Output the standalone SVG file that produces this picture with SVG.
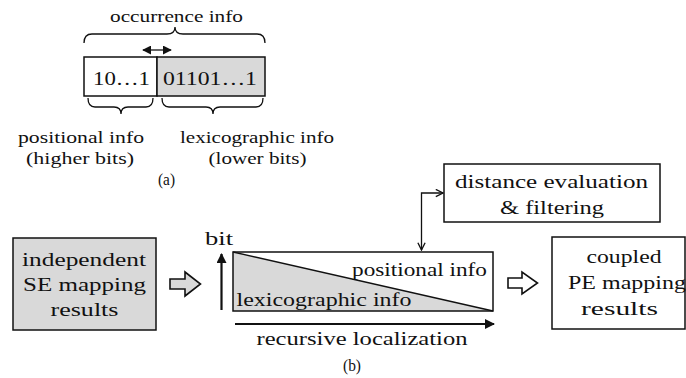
<svg xmlns="http://www.w3.org/2000/svg" width="686" height="378" viewBox="0 0 686 378" font-family="Liberation Serif, DejaVu Serif, Times New Roman, serif">
<style>
text{fill:#111}
.t{font-size:16.5px}
.b{font-size:18.5px}
.c{text-anchor:middle}
.box{fill:#fff;stroke:#111;stroke-width:1.5}
.gray{fill:#d9d9d9;stroke:#111;stroke-width:1.5}
.ln{fill:none;stroke:#111;stroke-width:1.3}
.thick{fill:none;stroke:#111;stroke-width:2.2}
.hollow{fill:#d9d9d9;stroke:#111;stroke-width:1.6;stroke-linejoin:miter}
</style>
<defs>
<marker id="fa" viewBox="0 0 10 10" refX="9" refY="5" markerWidth="9" markerHeight="9" markerUnits="userSpaceOnUse" orient="auto-start-reverse"><path d="M0,0 L10,5 L0,10 z" fill="#111"/></marker>
<marker id="ta" viewBox="0 0 10 10" refX="9" refY="5" markerWidth="10" markerHeight="10" markerUnits="userSpaceOnUse" orient="auto-start-reverse"><path d="M0,0 L10,5 L0,10 z" fill="#111"/></marker>
<marker id="va" viewBox="0 0 10 10" refX="9" refY="5" markerWidth="9" markerHeight="9" markerUnits="userSpaceOnUse" orient="auto-start-reverse"><path d="M1,1 L9,5 L1,9" fill="none" stroke="#111" stroke-width="1.5"/></marker>
</defs>

<g id="part-a">
<text class="t c" x="176.5" y="22" textLength="133" lengthAdjust="spacingAndGlyphs">occurrence info</text>
<path class="ln" d="M84,43 Q84,34 92,34 L167,34 Q175,34 175,27 Q175,34 183,34 L257,34 Q265,34 265,43"/>
<g id="bits-positional"><rect class="box" x="84" y="57" width="73" height="39"/><text class="b c" x="121.5" y="85" textLength="57" lengthAdjust="spacingAndGlyphs">10…1</text></g>
<g id="bits-lexicographic"><rect class="gray" x="157" y="57" width="108" height="39"/><text class="b c" x="210" y="85" textLength="94" lengthAdjust="spacingAndGlyphs">01101…1</text></g>
<path class="ln" d="M88,98 Q88,107 95,107 L114,107 Q121,107 121,114 Q121,107 128,107 L146,107 Q153,107 153,98"/>
<path class="ln" d="M162,98 Q162,107 169,107 L206,107 Q213,107 213,114 Q213,107 220,107 L256,107 Q263,107 263,98"/>
<text class="t c" x="81" y="143" textLength="126" lengthAdjust="spacingAndGlyphs">positional info</text>
<text class="t c" x="80" y="164" textLength="108" lengthAdjust="spacingAndGlyphs">(higher bits)</text>
<text class="t c" x="257" y="143" textLength="154" lengthAdjust="spacingAndGlyphs">lexicographic info</text>
<text class="t c" x="257.5" y="164" textLength="98" lengthAdjust="spacingAndGlyphs">(lower bits)</text>
<text class="t c" x="166.5" y="185" textLength="17" lengthAdjust="spacingAndGlyphs">(a)</text>
</g>

<g id="se-results">
<rect class="gray" x="13" y="238" width="143" height="92"/>
<text class="b c" x="84" y="266" textLength="124" lengthAdjust="spacingAndGlyphs">independent</text>
<text class="b c" x="84.5" y="291" textLength="123" lengthAdjust="spacingAndGlyphs">SE mapping</text>
<text class="b c" x="84.5" y="316" textLength="68" lengthAdjust="spacingAndGlyphs">results</text>
</g>

<g id="distance-eval">
<rect class="box" x="444" y="164" width="216" height="58"/>
<text class="b c" x="551.5" y="188" textLength="193" lengthAdjust="spacingAndGlyphs">distance evaluation</text>
<text class="b c" x="552" y="214" textLength="104" lengthAdjust="spacingAndGlyphs">&amp; filtering</text>
</g>

<g id="pe-results">
<rect class="box" x="552" y="237" width="133" height="92"/>
<text class="b c" x="624" y="263" textLength="75" lengthAdjust="spacingAndGlyphs">coupled</text>
<text class="b c" x="627" y="289" textLength="118" lengthAdjust="spacingAndGlyphs">PE mapping</text>
<text class="b c" x="619.5" y="315" textLength="77" lengthAdjust="spacingAndGlyphs">results</text>
</g>

<g id="bit-chart">
<text class="b c" x="219" y="245" textLength="28" lengthAdjust="spacingAndGlyphs">bit</text>
<polygon points="233,252 493,311 233,311" fill="#d9d9d9"/>
<rect x="233" y="252" width="260" height="59" fill="none" stroke="#111" stroke-width="1.5"/>
<line x1="233" y1="252" x2="493" y2="311" stroke="#111" stroke-width="1.3"/>
<text class="b" x="487" y="276" text-anchor="end" textLength="135" lengthAdjust="spacingAndGlyphs">positional info</text>
<text class="b" x="236.5" y="306" textLength="175" lengthAdjust="spacingAndGlyphs">lexicographic info</text>
<text class="b c" x="362" y="345" textLength="211" lengthAdjust="spacingAndGlyphs">recursive localization</text>
<text class="t c" x="352" y="371" textLength="18" lengthAdjust="spacingAndGlyphs">(b)</text>
</g>

<g id="connectors">
<line x1="143" y1="50" x2="171" y2="50" class="ln" marker-start="url(#fa)" marker-end="url(#fa)"/>
<line x1="221.5" y1="310" x2="221.5" y2="254" class="thick" marker-end="url(#ta)"/>
<line x1="235" y1="324" x2="494" y2="324" class="thick" marker-end="url(#ta)"/>
<polyline points="421.5,250 421.5,193 443,193" class="ln" marker-start="url(#va)" marker-end="url(#va)"/>
<path class="hollow" d="M170,279 L185,279 L185,272 L200.5,284 L185,296 L185,289 L170,289 Z"/>
<path class="hollow" d="M508,278 L522,278 L522,272 L537.5,283 L522,294 L522,288 L508,288 Z" style="fill:#fff"/>
</g>
</svg>
